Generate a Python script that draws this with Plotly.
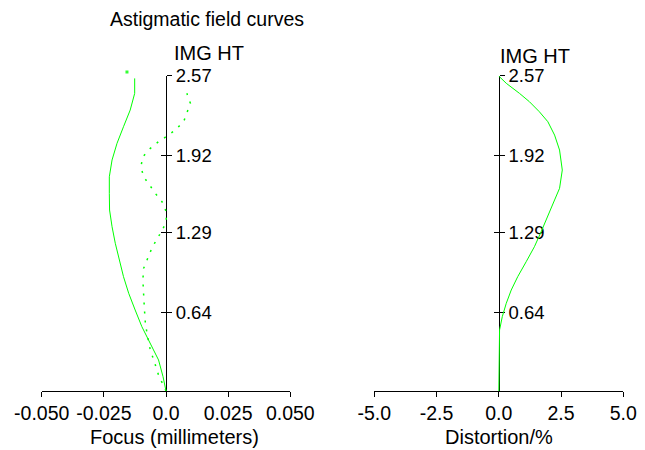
import plotly.graph_objects as go

# ---- data ----
img_ht_ticks = [0.64, 1.29, 1.92, 2.57]
img_ht_labels = ["0.64", "1.29", "1.92", "2.57"]
focus_ticks = [-0.05, -0.025, 0.0, 0.025, 0.05]
focus_labels = ["-0.050", "-0.025", "0.0", "0.025", "0.050"]
dist_ticks = [-5.0, -2.5, 0.0, 2.5, 5.0]
dist_labels = ["-5.0", "-2.5", "0.0", "2.5", "5.0"]

# tangential (solid) field curve
tan_y = [0.0, 0.117, 0.253, 0.389, 0.524, 0.660, 0.796, 0.932, 1.068, 1.204, 1.339,
         1.475, 1.611, 1.746, 1.883, 2.019, 2.154, 2.29, 2.426, 2.548]
tan_x = [0.0, -0.0012, -0.0030, -0.0063, -0.0097, -0.0124, -0.0150, -0.0171, -0.0188,
         -0.0204, -0.0217, -0.0227, -0.0228, -0.0228, -0.0217, -0.0197, -0.0171, -0.0144,
         -0.0126, -0.0126]

# sagittal (dotted) field curve
sag_y = [0.0, 0.049, 0.130, 0.239, 0.334, 0.443, 0.552, 0.674, 0.796, 0.905, 1.000,
         1.068, 1.149, 1.231, 1.306, 1.380, 1.461, 1.543, 1.611, 1.679, 1.746, 1.828,
         1.910, 1.978, 2.032, 2.078, 2.127, 2.195, 2.345, 2.426]
sag_x = [0.0, -0.0012, -0.0030, -0.0047, -0.0063, -0.0074, -0.0083, -0.0087, -0.0090,
         -0.0093, -0.0090, -0.0076, -0.0060, -0.0039, -0.0016, 0.0001, 0.0001, -0.0016,
         -0.0043, -0.0066, -0.0090, -0.0101, -0.0093, -0.0063, -0.0030, 0.0004, 0.0037,
         0.0071, 0.0098, 0.0084]

# isolated point at top of field curves
top_pt_x = [-0.0157]
top_pt_y = [2.60]

# distortion curve (%)
dist_y = [0.0, 0.05, 0.20, 0.40, 0.416, 0.497, 0.606, 0.715, 0.823, 0.932, 1.054, 1.176,
          1.298, 1.420, 1.557, 1.652, 1.801, 1.964, 2.086, 2.195, 2.276, 2.358, 2.426,
          2.508, 2.567]
dist_x = [0.0, 0.0, 0.0, 0.0, 0.0, 0.03, 0.14, 0.30, 0.50, 0.76, 1.10, 1.43,
          1.70, 1.97, 2.24, 2.44, 2.55, 2.44, 2.24, 1.97, 1.63, 1.23, 0.83,
          0.30, 0.0]

GREEN = "#00FF00"
FONT = "Liberation Sans, Arial, sans-serif"
Y_MAX = 2.57

fig = go.Figure()

fig.add_trace(go.Scatter(x=tan_x, y=tan_y, mode="lines",
                         line=dict(color=GREEN, width=1), xaxis="x", yaxis="y",
                         showlegend=False, hoverinfo="skip"))
fig.add_trace(go.Scatter(x=sag_x, y=sag_y, mode="lines",
                         line=dict(color=GREEN, width=1.5, dash="2px,7px"),
                         xaxis="x", yaxis="y", showlegend=False, hoverinfo="skip"))
fig.add_trace(go.Scatter(x=dist_x, y=dist_y, mode="lines",
                         line=dict(color=GREEN, width=1), xaxis="x2", yaxis="y2",
                         showlegend=False, hoverinfo="skip"))

# page body adds an 8px offset; figure coordinates are computed relative to it
OFF = 8
W, H = 645 - OFF, 450 - OFF


def px_x(p):
    return (p - OFF) / W


def px_y(p):
    return 1 - (p - OFF) / H


Y_BOT_PX, Y_TOP_PX = 391.0, 75.7
x1_dom = [px_x(41.7), px_x(290.3)]
x2_dom = [px_x(374.3), px_x(623.3)]
y_dom = [px_y(Y_BOT_PX), px_y(Y_TOP_PX)]
p1 = (x1_dom[0] + x1_dom[1]) / 2
p2 = (x2_dom[0] + x2_dom[1]) / 2

# hidden helper axis with identical scale but a few pixels taller,
# so the isolated point just above the top can be drawn
EXT_TOP_PX = 62.0
y_ext_dom = [px_y(Y_BOT_PX), px_y(EXT_TOP_PX)]
y_ext_max = Y_MAX * (Y_BOT_PX - EXT_TOP_PX) / (Y_BOT_PX - Y_TOP_PX)

xtickfont = dict(family=FONT, size=19.5, color="black")
ytickfont = dict(family=FONT, size=18.5, color="black")

xcommon = dict(showline=True, linecolor="black", linewidth=1, ticks="outside",
               ticklen=5, tickcolor="black", tickwidth=1, showgrid=False,
               zeroline=False, tickfont=xtickfont, fixedrange=True, automargin=False)
ycommon = dict(range=[0, Y_MAX], showgrid=False, zeroline=False,
               tickvals=img_ht_ticks, tickcolor="black", tickwidth=1,
               ticklen=5, fixedrange=True, layer="below traces", automargin=False)

fig.update_layout(
    width=W, height=H,
    margin=dict(l=0, r=0, t=0, b=0, pad=0, autoexpand=False),
    paper_bgcolor="white", plot_bgcolor="rgba(0,0,0,0)",
    font=dict(family=FONT, color="black"),
    xaxis=dict(domain=x1_dom, range=[-0.05, 0.05], tickvals=focus_ticks,
               ticktext=focus_labels, anchor="y", **xcommon),
    xaxis2=dict(domain=x2_dom, range=[-5, 5], tickvals=dist_ticks,
                ticktext=dist_labels, anchor="y2", **xcommon),
    yaxis=dict(domain=y_dom, anchor="free", position=p1, side="right",
               ticks="outside", ticktext=img_ht_labels, showticklabels=True,
               tickfont=ytickfont, showline=True, linecolor="black", linewidth=1,
               **ycommon),
    yaxis3=dict(domain=y_dom, anchor="free", position=p1, side="right",
                overlaying="y", ticks="inside", showticklabels=False,
                showline=False, **ycommon),
    yaxis2=dict(domain=y_dom, anchor="free", position=p2, side="right",
                ticks="outside", ticktext=img_ht_labels, showticklabels=True,
                tickfont=ytickfont, showline=True, linecolor="black", linewidth=1,
                **ycommon),
    yaxis4=dict(domain=y_dom, anchor="free", position=p2, side="right",
                overlaying="y2", ticks="inside", showticklabels=False,
                showline=False, **ycommon),
    yaxis5=dict(domain=y_ext_dom, range=[0, y_ext_max], anchor="free",
                position=p1, visible=False, fixedrange=True,
                automargin=False, showgrid=False, zeroline=False),
)
# dummy traces to activate overlay axes
fig.add_trace(go.Scatter(x=[None], y=[None], xaxis="x", yaxis="y3",
                         showlegend=False, hoverinfo="skip"))
fig.add_trace(go.Scatter(x=[None], y=[None], xaxis="x2", yaxis="y4",
                         showlegend=False, hoverinfo="skip"))
fig.add_trace(go.Scatter(x=top_pt_x, y=top_pt_y, mode="markers",
                         marker=dict(color="#33FF33", size=3, symbol="square",
                                     line=dict(width=0)),
                         xaxis="x", yaxis="y5",
                         showlegend=False, hoverinfo="skip"))

fig.add_annotation(text="Astigmatic field curves", xref="paper", yref="paper",
                   x=px_x(108), y=px_y(19), xanchor="left", yanchor="middle",
                   showarrow=False, font=dict(family=FONT, size=19.5, color="black"))
fig.add_annotation(text="IMG HT", xref="paper", yref="paper",
                   x=px_x(172), y=px_y(53), xanchor="left", yanchor="middle",
                   showarrow=False, font=dict(family=FONT, size=20, color="black"))
fig.add_annotation(text="IMG HT", xref="paper", yref="paper",
                   x=px_x(498), y=px_y(55.5), xanchor="left", yanchor="middle",
                   showarrow=False, font=dict(family=FONT, size=20, color="black"))
fig.add_annotation(text="Focus (millimeters)", xref="paper", yref="paper",
                   x=px_x(174.5), y=px_y(437), xanchor="center", yanchor="middle",
                   showarrow=False, font=dict(family=FONT, size=20, color="black"))
fig.add_annotation(text="Distortion/%", xref="paper", yref="paper",
                   x=px_x(498.5), y=px_y(437), xanchor="center", yanchor="middle",
                   showarrow=False, font=dict(family=FONT, size=20, color="black"))

fig.write_html("out.html")
